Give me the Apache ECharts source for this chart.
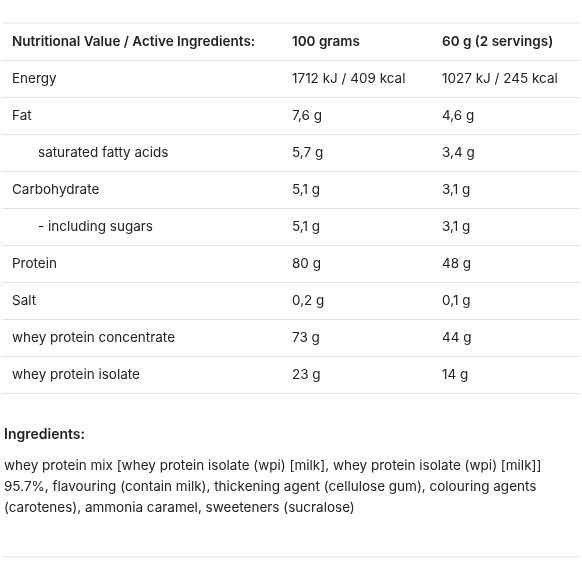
<!DOCTYPE html>
<html><head><meta charset="utf-8">
<script src="https://cdn.jsdelivr.net/npm/echarts@6/dist/echarts.min.js"></script>
<style>html,body{margin:0;padding:0;background:#fff}#c{width:582px;height:582px}</style>
</head><body><div id="c"></div>
<script>
const headers = ['Nutritional Value / Active Ingredients:', '100 grams', '60 g (2 servings)'];
const rowLabels = ['Energy','Fat','saturated fatty acids','Carbohydrate','- including sugars','Protein','Salt','whey protein concentrate','whey protein isolate'];
const per100 = ['1712 kJ / 409 kcal','7,6 g','5,7 g','5,1 g','5,1 g','80 g','0,2 g','73 g','23 g'];
const perServing = ['1027 kJ / 245 kcal','4,6 g','3,4 g','3,1 g','3,1 g','48 g','0,1 g','44 g','14 g'];
const indented = [false,false,true,false,true,false,false,false,false];
const ingredientsTitle = 'Ingredients:';
const ingredientsLines = [
 'whey protein mix [whey protein isolate (wpi) [milk], whey protein isolate (wpi) [milk]]',
 '95.7%, flavouring (contain milk), thickening agent (cellulose gum), colouring agents',
 '(carotenes), ammonia caramel, sweeteners (sucralose)'
];
(function(){
const chart = echarts.init(document.getElementById('c'));
const F = 'Inter, "Noto Sans", sans-serif', C = '#222', L = '#e2e2e2';
const colX = [12, 292, 442], headY = 42, step = 37;
const g = [];
const txt = (x,y,s,bold,size)=>g.push({type:'text',x,y,style:{text:s,font:(bold?'600 ':'400 ')+(size||13.5)+'px '+F,fill:C,textVerticalAlign:'middle'}});
const line = (y)=>g.push({type:'line',shape:{x1:2,y1:y,x2:580,y2:y},style:{stroke:L,lineWidth:1}});
line(headY-19);
headers.forEach((h,i)=>txt(colX[i],headY,h,true));
line(headY+18.5);
rowLabels.forEach((r,i)=>{
  const y = headY + step*(i+1);
  txt(colX[0]+(indented[i]?26:0), y, r);
  txt(colX[1], y, per100[i]);
  txt(colX[2], y, perServing[i]);
  line(y+18.5);
});
txt(4, 435, ingredientsTitle, true, 14);
ingredientsLines.forEach((s,i)=>txt(4, 466+21*i, s, false, 13.5));
line(557);
chart.setOption({animation:false, graphic:g});
})();
</script></body></html>
